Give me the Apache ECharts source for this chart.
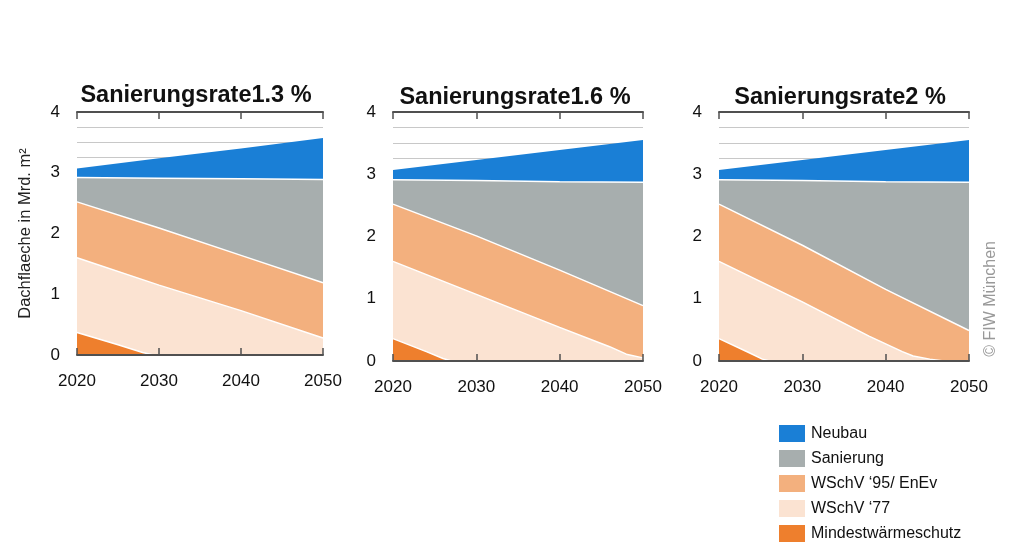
<!DOCTYPE html>
<html>
<head>
<meta charset="utf-8">
<script src="https://cdn.jsdelivr.net/npm/echarts@6/dist/echarts.min.js"></script>
<style>
html,body{margin:0;padding:0;background:#fff;}
#chart{width:1024px;height:559px;}
</style>
</head>
<body>
<div id="chart"></div>
<script>
// ---- data (upper boundary of each stacked layer, [year, Mrd. m²]) ----
const seriesNames = ['Neubau', 'Sanierung', 'WSchV \u201895/ EnEv', 'WSchV \u201877', 'Mindestw\u00e4rmeschutz'];
const titles = ['Sanierungsrate1.3 %', 'Sanierungsrate1.6 %', 'Sanierungsrate2 %'];
const xTicks = [2020, 2030, 2040, 2050];
const yTicks = [0, 1, 2, 3, 4];

// Sanierungsrate 1.3 %
const neubau13     = [[2020, 3.07], [2030, 3.24], [2040, 3.40], [2050, 3.57]];
const sanierung13  = [[2020, 2.92], [2030, 2.91], [2040, 2.90], [2050, 2.89]];
const wschv95_13   = [[2020, 2.52], [2030, 2.09], [2040, 1.64], [2050, 1.19]];
const wschv77_13   = [[2020, 1.60], [2030, 1.15], [2040, 0.73], [2050, 0.28]];
const mindest13    = [[2020, 0.37], [2025, 0.17], [2028, 0.04], [2029.3, 0]];

// Sanierungsrate 1.6 %
const neubau16     = [[2020, 3.07], [2030, 3.23], [2040, 3.39], [2050, 3.55]];
const sanierung16  = [[2020, 2.91], [2030, 2.90], [2040, 2.88], [2050, 2.87]];
const wschv95_16   = [[2020, 2.52], [2030, 2.01], [2040, 1.46], [2050, 0.89]];
const wschv77_16   = [[2020, 1.60], [2030, 1.07], [2040, 0.54], [2046, 0.23], [2048, 0.11], [2050, 0.05]];
const mindest16    = [[2020, 0.36], [2024, 0.15], [2026, 0.04], [2027.0, 0]];

// Sanierungsrate 2 %
const neubau20     = [[2020, 3.07], [2030, 3.23], [2040, 3.39], [2050, 3.55]];
const sanierung20  = [[2020, 2.91], [2030, 2.90], [2040, 2.88], [2050, 2.87]];
const wschv95_20   = [[2020, 2.52], [2030, 1.86], [2040, 1.15], [2050, 0.49]];
const wschv77_20   = [[2020, 1.60], [2030, 0.95], [2038, 0.40], [2042, 0.15], [2043.3, 0.08], [2045.3, 0.03], [2047, 0]];
const mindest20    = [[2020, 0.36], [2023.5, 0.14], [2025.2, 0.03], [2026.1, 0]];

const panels = [
  [neubau13, sanierung13, wschv95_13, wschv77_13, mindest13],
  [neubau16, sanierung16, wschv95_16, wschv77_16, mindest16],
  [neubau20, sanierung20, wschv95_20, wschv77_20, mindest20]
];

// ---- styling / layout ----
const colors = ['#1a7fd6', '#a7aeae', '#f3b07e', '#fbe3d2', '#ee7f2d'];
const grids = [
  {left: 77,  top: 112, width: 246, height: 243},
  {left: 393, top: 112, width: 250, height: 249},
  {left: 719, top: 112, width: 250, height: 249}
];
const titleCenters = [191, 510, 835];
const titleTops = [79, 81, 81];
const fontFam = '"Liberation Sans", Arial, sans-serif';
const axisCol = '#505050';

const xAxes = [], yAxes = [], series = [], titleArr = [];
grids.forEach((g, i) => {
  const base = {
    type: 'value', gridIndex: i, min: xTicks[0], max: xTicks[xTicks.length - 1],
    interval: xTicks[1] - xTicks[0], z: 10,
    axisLine: {show: true, lineStyle: {color: axisCol, width: 2}},
    axisTick: {show: true, inside: true, length: 7, lineStyle: {color: axisCol, width: 1.5}},
    splitLine: {show: false}
  };
  xAxes.push(Object.assign({}, base, {
    position: 'bottom',
    axisLabel: {show: true, fontSize: 17, color: '#111', margin: 18, fontFamily: fontFam,
      formatter: v => String(v)}
  }));
  xAxes.push(Object.assign({}, base, {position: 'top', axisLabel: {show: false}}));
  yAxes.push({
    type: 'value', gridIndex: i, min: yTicks[0], max: yTicks[yTicks.length - 1], interval: 1,
    axisLine: {show: false}, axisTick: {show: false},
    axisLabel: {fontSize: 17, color: '#111', margin: 17, fontFamily: fontFam},
    splitLine: {show: true, lineStyle: {color: '#c8c8c8', width: 1}},
    minorTick: {show: false, splitNumber: 4},
    minorSplitLine: {show: true, lineStyle: {color: '#c8c8c8', width: 1}},
    name: i === 0 ? 'Dachflaeche in Mrd. m\u00b2' : '',
    nameLocation: 'middle', nameRotate: 90, nameGap: 43,
    nameTextStyle: {fontSize: 16.5, color: '#222', fontFamily: fontFam}
  });
  titleArr.push({
    text: titles[i], left: titleCenters[i], top: titleTops[i], textAlign: 'center',
    textStyle: {fontSize: 23.5, fontWeight: 'bold', color: '#111', fontFamily: fontFam}
  });
  panels[i].forEach((data, k) => {
    series.push({
      type: 'line', name: seriesNames[k], xAxisIndex: i * 2, yAxisIndex: i,
      data: data, symbol: 'none', showSymbol: false, silent: true, z: 2 + k,
      lineStyle: {color: k === 0 ? colors[0] : '#ffffff', width: k === 0 ? 0 : 1.5},
      areaStyle: {color: colors[k], opacity: 1},
      itemStyle: {color: colors[k]}
    });
  });
});

const chart = echarts.init(document.getElementById('chart'), null, {renderer: 'canvas'});
chart.setOption({
  backgroundColor: '#ffffff',
  animation: false,
  title: titleArr,
  grid: grids,
  xAxis: xAxes,
  yAxis: yAxes,
  legend: {
    data: seriesNames, orient: 'vertical', left: 774, top: 420,
    icon: 'rect', itemWidth: 26, itemHeight: 17, itemGap: 8,
    textStyle: {fontSize: 16, color: '#111', fontFamily: fontFam, padding: [3, 0, 0, 1]},
    selectedMode: false
  },
  graphic: [{
    type: 'text', left: 983, top: 241, rotation: Math.PI / 2,
    style: {text: '\u00a9 FIW M\u00fcnchen', fontSize: 16, fill: '#999', fontFamily: fontFam}
  }],
  series: series
});
</script>
</body>
</html>
